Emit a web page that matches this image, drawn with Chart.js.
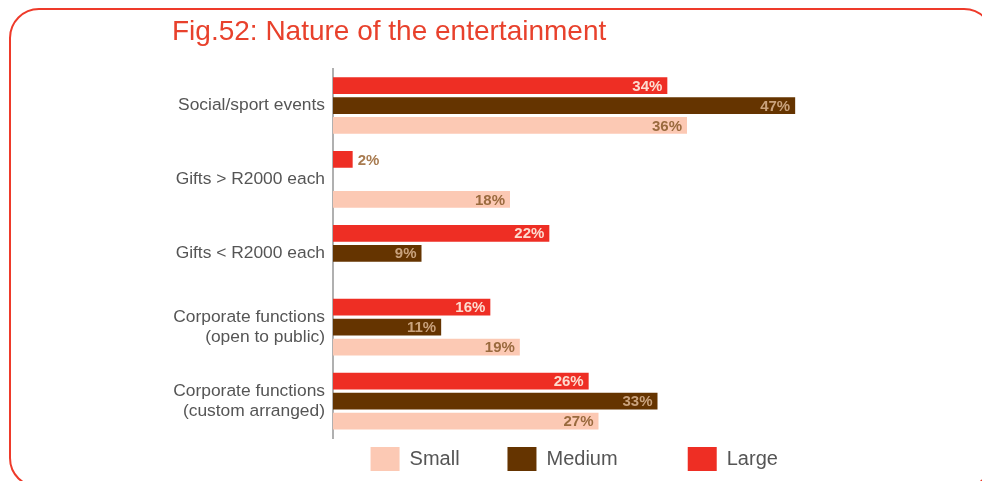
<!DOCTYPE html>
<html>
<head>
<meta charset="utf-8">
<script src="https://cdn.jsdelivr.net/npm/chart.js@4/dist/chart.umd.min.js"></script>
<style>
  html, body { margin: 0; padding: 0; background: #ffffff; overflow: hidden; }
  #frame { position: absolute; left: 9px; top: 8px; width: 985px; height: 480px;
           border: 2px solid #ee3a2a; border-radius: 30px; box-sizing: border-box; }
  #wrap { position: absolute; left: 0; top: 0; width: 982px; height: 481px; }
</style>
</head>
<body>
<div id="frame"></div>
<div id="wrap"><canvas id="c"></canvas></div>
<script>
const titleText = 'Fig.52: Nature of the entertainment';
const categories = [
  'Social/sport events',
  'Gifts > R2000 each',
  'Gifts < R2000 each',
  ['Corporate functions', '(open to public)'],
  ['Corporate functions', '(custom arranged)']
];
const seriesNames = ['Large', 'Medium', 'Small'];
const largeValues = [34, 2, 22, 16, 26];
const mediumValues = [47, null, 9, 11, 33];
const smallValues = [36, 18, null, 19, 27];
const legendLabels = { Small: 'Small       ', Medium: 'Medium           ', Large: 'Large ' };

const barColors = ['#ee2e24', '#653400', '#fcc9b4'];
const labelColors = ['#fddccf', '#c9a27c', '#9a6a3e'];
const outsideLabelColor = '#a87b50';

const valueLabels = {
  id: 'valueLabels',
  afterDatasetsDraw(chart) {
    const ctx = chart.ctx;
    ctx.save();
    ctx.font = 'bold 15px "Liberation Sans", Arial, sans-serif';
    ctx.textBaseline = 'middle';
    chart.data.datasets.forEach((ds, di) => {
      const meta = chart.getDatasetMeta(di);
      meta.data.forEach((bar, i) => {
        const v = ds.data[i];
        if (v === null || v === undefined) return;
        const txt = v + '%';
        const tw = ctx.measureText(txt).width;
        const w = bar.x - bar.base;
        if (w < tw + 10) {
          ctx.textAlign = 'left';
          ctx.fillStyle = outsideLabelColor;
          ctx.fillText(txt, bar.x + 5, bar.y + 1);
        } else {
          ctx.textAlign = 'right';
          ctx.fillStyle = labelColors[di];
          ctx.fillText(txt, bar.x - 5, bar.y + 1);
        }
      });
    });
    ctx.restore();
  }
};

new Chart(document.getElementById('c'), {
  type: 'bar',
  data: {
    labels: categories,
    datasets: [
      { label: seriesNames[0], data: largeValues, backgroundColor: barColors[0] },
      { label: seriesNames[1], data: mediumValues, backgroundColor: barColors[1] },
      { label: seriesNames[2], data: smallValues, backgroundColor: barColors[2] }
    ]
  },
  options: {
    indexAxis: 'y',
    responsive: true,
    maintainAspectRatio: false,
    animation: false,
    datasets: { bar: { categoryPercentage: 0.81, barPercentage: 0.84 } },
    layout: { padding: { left: 172, right: 0, top: 0, bottom: 0 } },
    scales: {
      x: { display: false, min: 0, max: 66 },
      y: {
        grid: { display: false, drawTicks: false },
        border: { display: true, color: '#b0b0b0', width: 2 },
        ticks: {
          color: '#555555',
          padding: 8,
          font: { family: '"Liberation Sans", Arial, sans-serif', size: 17.4, lineHeight: 1.15 }
        },
        afterFit(scale) { scale.width = 161; }
      }
    },
    plugins: {
      title: {
        display: true,
        text: titleText,
        align: 'start',
        color: '#e8412c',
        font: { family: '"Liberation Sans", Arial, sans-serif', size: 28, weight: 'normal', lineHeight: 1.2 },
        padding: { top: 15, bottom: 20 }
      },
      legend: {
        position: 'bottom',
        reverse: true,
        labels: {
          boxWidth: 29,
          boxHeight: 24,
          padding: 9,
          color: '#555555',
          font: { family: '"Liberation Sans", Arial, sans-serif', size: 20 },
          generateLabels(chart) {
            const items = Chart.defaults.plugins.legend.labels.generateLabels(chart);
            items.forEach(it => { it.text = legendLabels[it.text] || it.text; it.lineWidth = 0; });
            return items;
          }
        }
      },
      tooltip: { enabled: false }
    }
  },
  plugins: [valueLabels]
});
</script>
</body>
</html>
